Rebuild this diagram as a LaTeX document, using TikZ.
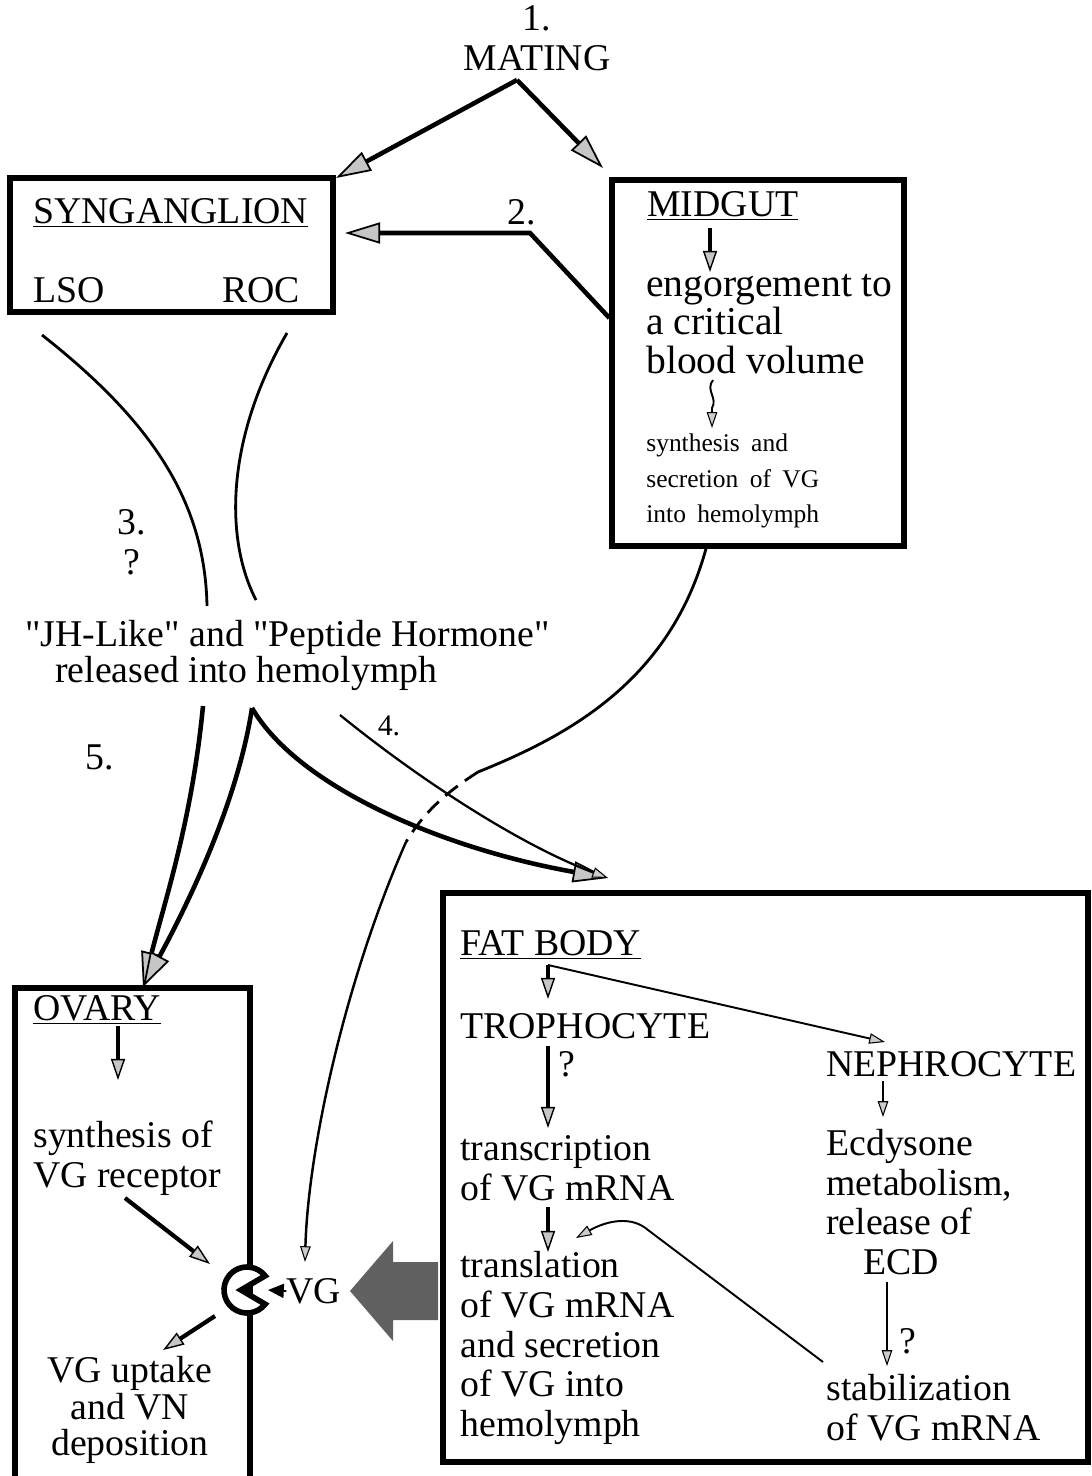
\documentclass[tikz,border=0pt]{standalone}
\usepackage{fontspec}
\setmainfont{Liberation Serif}[Ligatures=TeXOff]
\usetikzlibrary{arrows.meta,positioning}

\newcommand\mainsize{\fontsize{21.5}{22.6}\selectfont}
\newcommand\gutsize{\fontsize{22.5}{21.8}\selectfont}
\newcommand\smallsize{\fontsize{14.5}{20.4}\selectfont\spaceskip=0.45em\relax}

\tikzset{
  organ/.style={draw, line width=3pt, inner sep=0pt},
  txt/.style={inner sep=0pt, font=\mainsize},
  heavy/.style={line width=2.6pt, -{Triangle[length=20pt, width=12pt, fill=gray!45, line width=1pt]}},
  stub/.style={line width=2.4pt, -{Triangle[length=12pt, width=8pt, fill=gray!45, line width=0.8pt]}},
  fine/.style={line width=1.1pt, -{Triangle[length=9pt, width=6pt, fill=gray!40, line width=0.6pt]}},
  nerve/.style={line width=1.6pt},
}

\begin{document}
\begin{tikzpicture}[x=0.02cm, y=-0.02cm]
\useasboundingbox (0,0) rectangle (1091,1476);

% the four organs
\node[organ, minimum width=6.46cm, minimum height=2.68cm] (syn) at (171.5,245) {};
\node[organ, minimum width=5.84cm, minimum height=7.32cm] (gut) at (758,363) {};
\node[organ, minimum width=4.7cm, minimum height=10.4cm] (ovary) at (132.5,1248) {};
\node[organ, minimum width=12.9cm, minimum height=11.38cm] (fat) at (765.5,1177.5) {};

% top part
\node[txt, align=center] (mating) at (537,38) {1.\\MATING};
\node[txt, anchor=west] (syntitle) at (33,213) {\underline{SYNGANGLION}};
\node[txt, anchor=west] (lso) at (33,290) {LSO};
\node[txt, anchor=west] (roc) at (222,290) {ROC};
\node[txt] (two) at (522,212) {2.};
\node[txt, anchor=west] (guttitle) at (647,206) {\underline{MIDGUT}};
\node[txt, font=\gutsize, align=left, anchor=west] (engorge) at (646,324)
  {engorgement to\\a critical\\blood volume};
\node[txt, font=\smallsize, align=left, anchor=west] (secrete) at (646,481)
  {synthesis and\\secretion of VG\\into hemolymph};

\coordinate (apex) at (517,80);
\draw[heavy] (apex) -- (336,178);
\draw[heavy] (apex) -- (603,168);
\draw[heavy] (gut.west |- 0,318) -- (530,233) -- (345,233);
\draw[stub] (710,228) -- (710,272);
\draw[fine] (713,380) .. controls (705,390) and (718,398) .. (712,408) -- (712,428);

% hormones
\node[txt, align=center] (three) at (132,542) {3.\\?};
\node[txt, font=\fontsize{21.5}{19}\selectfont, align=left, anchor=west] (horm) at (25,655)
  {"JH-Like" and "Peptide Hormone"\\\hspace*{0.6cm}released into hemolymph};
\node[txt] (five) at (100,757) {5.};
\node[txt, font=\fontsize{17}{17}\selectfont] (four) at (389,726) {4.};

\draw[nerve] (42,335) .. controls (150,420) and (205,500) .. (207,606);
\draw[nerve] (287,333) .. controls (225,440) and (225,540) .. (256,600);

\coordinate (peak) at (252,708);
\draw[heavy] (203,706) .. controls (192,820) and (165,900) .. (143,987);
\draw[heavy] (peak) .. controls (238,800) and (190,900) .. (143,987);
\draw[heavy] (peak) .. controls (300,790) and (450,850) .. (608,878);
\draw[fine, line width=1.3pt] (340,715) .. controls (420,780) and (520,845) .. (608,878);

% vitellogenin from the midgut, passing behind
\coordinate (dashA) at (478,772);
\coordinate (dashB) at (406,842);
\draw[nerve] ([shift={(-52,0)}]gut.south) .. controls (670,680) and (570,735) .. (dashA);
\draw[nerve, dash pattern=on 9pt off 5pt] (dashA) .. controls (450,790) and (425,810) .. (dashB);
\draw[fine, line width=1.4pt] (dashB) .. controls (345,980) and (308,1150) .. (305,1262);

% ovary
\node[txt, anchor=west] (ovtitle) at (33,1010) {\underline{OVARY}};
\node[txt, align=left, anchor=west] (receptor) at (33,1158) {synthesis of\\VG receptor};
\node[txt, align=center, font=\fontsize{21.5}{21}\selectfont] (uptake) at (130,1410)
  {VG uptake\\and VN\\deposition};
\coordinate (rec) at (247,1290);
\node[txt] (vg) at (314,1291) {VG};

\draw[stub] (118,1026) -- (118,1080);
\draw[stub] (125,1198) -- (210,1264);
\draw[stub] (215,1316) -- (163,1350);
\draw[line width=3.2pt, fill=white] (rec) ++(38:23) arc[start angle=38, end angle=322, radius=23]
  -- ([shift={(-6,0)}]rec) -- cycle;
\draw[line width=1pt, -{Triangle[length=9pt, width=8pt]}] (vg.west) -- ([shift={(21,0)}]rec);

% from the fat body into the hemolymph
\fill[black!62] (438,1262) -- (393,1262) -- (393,1241) -- (350,1291)
  -- (393,1341) -- (393,1320) -- (438,1320) -- cycle;

% fat body
\node[txt, anchor=west] (fattitle) at (460,945) {\underline{FAT BODY}};
\node[txt, anchor=west] (tropho) at (460,1026) {TROPHOCYTE};
\node[txt, anchor=west] (nephro) at (826,1064) {NEPHROCYTE};
\node[txt, align=left, anchor=west] (transc) at (460,1168) {transcription\\of VG mRNA};
\node[txt, align=left, anchor=west] (transl) at (460,1348)
  {translation\\of VG mRNA\\and secretion\\of VG into\\hemolymph};
\node[txt, align=left, anchor=west] (ecdy) at (826,1202)
  {Ecdysone\\metabolism,\\release of\\\hspace*{0.74cm}ECD};
\node[txt, align=left, anchor=west] (stab) at (826,1408) {stabilization\\of VG mRNA};
\node[txt] (q1) at (567,1064) {?};
\node[txt] (q2) at (908,1341) {?};

\coordinate (fork) at (548,965);
\draw[stub] (fork) -- (548,999);
\draw[fine] (fork) -- (885,1042);
\draw[stub] (548,1046) -- (548,1128);
\draw[fine] (883,1081) -- (883,1117);
\draw[stub] (548,1207) -- (548,1252);
\draw[fine] (887,1282) -- (887,1366);
\draw[fine] (823,1362) -- (648,1230) .. controls (632,1216) and (608,1220) .. (576,1238);

\end{tikzpicture}
\end{document}
